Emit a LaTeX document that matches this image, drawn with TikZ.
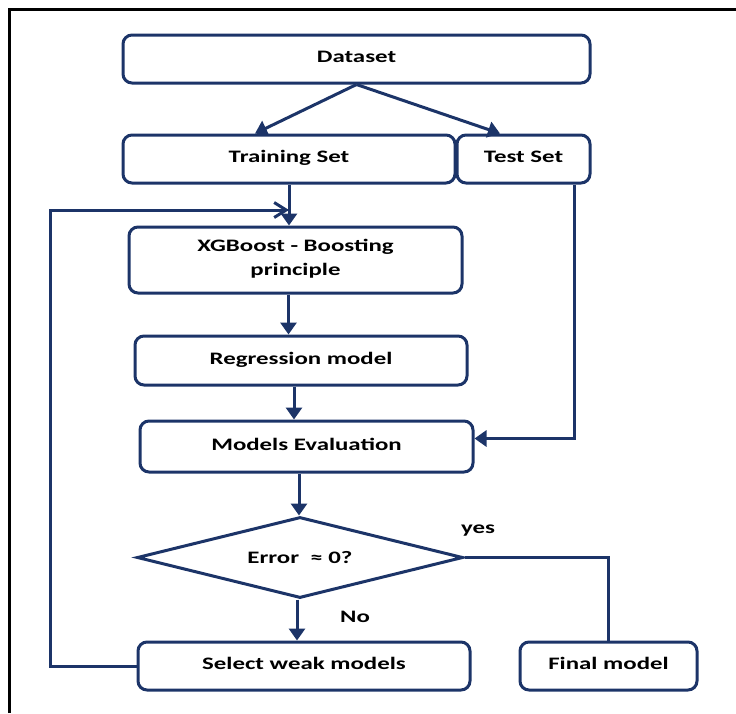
\documentclass[tikz,border=0pt]{standalone}
\usepackage{fontspec}
\setmainfont{Carlito}[FakeStretch=1.42]
\usetikzlibrary{arrows.meta,shapes.geometric}
\definecolor{navy}{RGB}{28,52,104}
\begin{document}
\begin{tikzpicture}[x=1pt,y=-1pt,
  txt/.style={font=\fontsize{17.5}{24}\selectfont\bfseries},
  box/.style={txt,draw=navy,line width=3pt,rounded corners=9pt,minimum height=48pt,inner sep=0pt,align=center,text depth=5pt},
  conn/.style={draw=navy,line width=3pt},
  arr/.style={conn,-{Triangle[width=16pt,length=12pt]}},
  barb/.style={conn,-{Straight Barb[length=12pt,width=15pt]}}]
\useasboundingbox (0,0) rectangle (736,713);
% frame
\draw[black,line width=2.5pt] (9.5,713) -- (9.5,9.5) -- (736,9.5);
% nodes
\node[box,minimum width=467pt] (dataset) at (356.5,59) {Dataset};
\node[box,minimum width=332pt] (train) at (289,159) {Training Set};
\node[box,minimum width=133pt] (test) at (523.5,159) {Test Set};
\node[box,minimum width=333pt,minimum height=66pt] (xgb) at (295.5,260) {XGBoost - Boosting\\principle};
\node[box,minimum width=332pt,minimum height=49pt] (reg) at (301,360.5) {Regression model};
\node[box,minimum width=333pt,minimum height=51pt] (eval) at (306.5,446.5) {Models Evaluation};
\node[draw=navy,line width=3pt,diamond,minimum width=326pt,minimum height=81pt,inner sep=0pt] (dia) at (300,557.5) {};
\node[txt] (errtxt) at (dia.center) {Error~~≈ 0?};
\node[box,minimum width=332pt] (select) at (304,666) {Select weak models};
\node[box,minimum width=177pt] (final) at (608.5,666) {Final model};
\node[txt] (yes) at (478,531) {yes};
\node[txt] (no) at (355,617) {No};
% connectors
\draw[arr] (dataset.south) -- ([xshift=-34pt]train.north);
\draw[arr] (dataset.south) -- ([xshift=-23.5pt]test.north);
\draw[arr] (train.south) -- (train.south |- xgb.north);
\draw[arr] ([xshift=-7pt]xgb.south) -- ([xshift=-7pt]xgb.south |- reg.north);
\draw[arr] ([xshift=-7pt]reg.south) -- ([xshift=-7pt]reg.south |- eval.north);
\draw[arr] ([xshift=-7.5pt]eval.south) -- ([xshift=-7.5pt]eval.south |- dia.north);
\draw[arr] ([xshift=-17pt]test.south east) |- ([yshift=8pt]eval.east);
\draw[conn] (dia.east) -| (final.north);
\draw[arr] ([xshift=-3pt]dia.south) -- ([xshift=-3pt]dia.south |- select.north);
\coordinate (fbc) at (50,210);
\draw[barb] (select.west) -| (fbc) -- (fbc -| train.south);
\end{tikzpicture}
\end{document}
